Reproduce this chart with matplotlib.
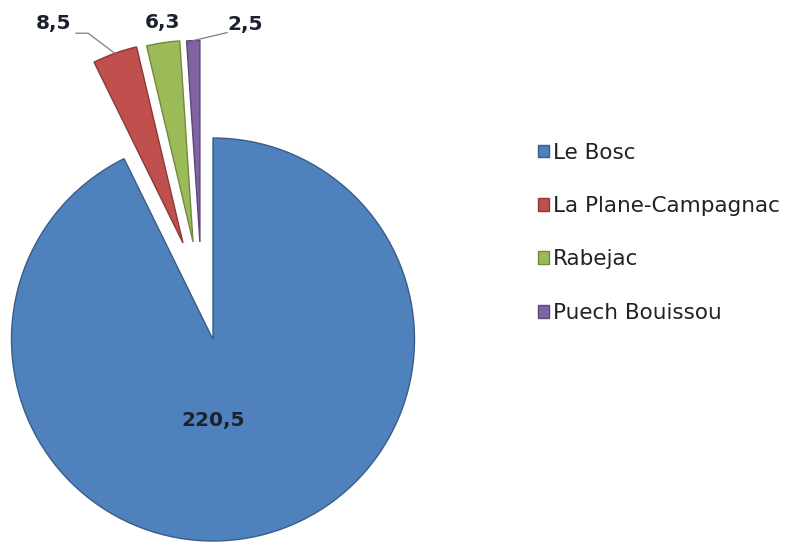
import numpy as np
import matplotlib.pyplot as plt
from matplotlib.patches import Patch

# Surface per lieu-dit
names = ["Le Bosc", "La Plane-Campagnac", "Rabejac", "Puech Bouissou"]
values = [220.5, 8.5, 6.3, 2.5]
labels = ["220,5", "8,5", "6,3", "2,5"]

colors = ["#4F81BD", "#C0504D", "#9BBB59", "#8064A2"]
edges = ["#385D8A", "#8C3836", "#71893F", "#5C4776"]

# how far each slice is pulled out of the pie (in radius units)
offsets = [(0, 0), (-0.149, 0.479), (-0.099, 0.484), (-0.065, 0.484)]

W, H = 788, 542
cx, cy, R = 213, 339.5, 201.5  # pie centre / radius in pixels

fig = plt.figure(figsize=(W / 100, H / 100), dpi=100)
ax = fig.add_axes([0, 0, 1, 1])

wedges, _ = ax.pie(values, colors=colors, startangle=90,
                   counterclock=False, radius=1,
                   wedgeprops=dict(linewidth=1.0))
for w, ec, off in zip(wedges, edges, offsets):
    w.set_edgecolor(ec)
    w.set_center(off)

ax.set_aspect("auto")
ax.set_xlim(-cx / R, (W - cx) / R)
ax.set_ylim(-(H - cy) / R, cy / R)
ax.axis("off")

txt = dict(fontsize=14.5, fontweight="bold", color="#1C2130",
           ha="center", va="center")

# big slice label inside
ax.text(0, -0.40, labels[0], **txt)

# small pulled-out slices: labels above with leader lines
label_pos = [None, (-0.79, 1.57), (-0.25, 1.575), (0.16, 1.563)]
for i in range(1, 4):
    w = wedges[i]
    mid = np.deg2rad((w.theta1 + w.theta2) / 2)
    px = w.center[0] + w.r * np.cos(mid)
    py = w.center[1] + w.r * np.sin(mid)
    lx, ly = label_pos[i]
    ax.text(lx, ly, labels[i], **txt)
    if i == 1:
        ax.plot([lx + 0.11, lx + 0.17, px], [ly - 0.05, ly - 0.05, py],
                color="#7F7F7F", lw=0.9)
    elif i == 3:
        ax.plot([px, lx - 0.09], [py, ly - 0.04], color="#7F7F7F", lw=0.9)

handles = [Patch(facecolor=c, edgecolor=e, linewidth=1.0)
           for c, e in zip(colors, edges)]
leg = fig.legend(handles, names, loc="upper left",
                 bbox_to_anchor=(529 / W, 1 - 134 / H), frameon=False,
                 fontsize=15.5, handlelength=0.55, handleheight=0.55,
                 handletextpad=0.15, labelspacing=1.55, borderaxespad=0)
for t in leg.get_texts():
    t.set_color("#222222")

fig.savefig("out.png", dpi=100)
